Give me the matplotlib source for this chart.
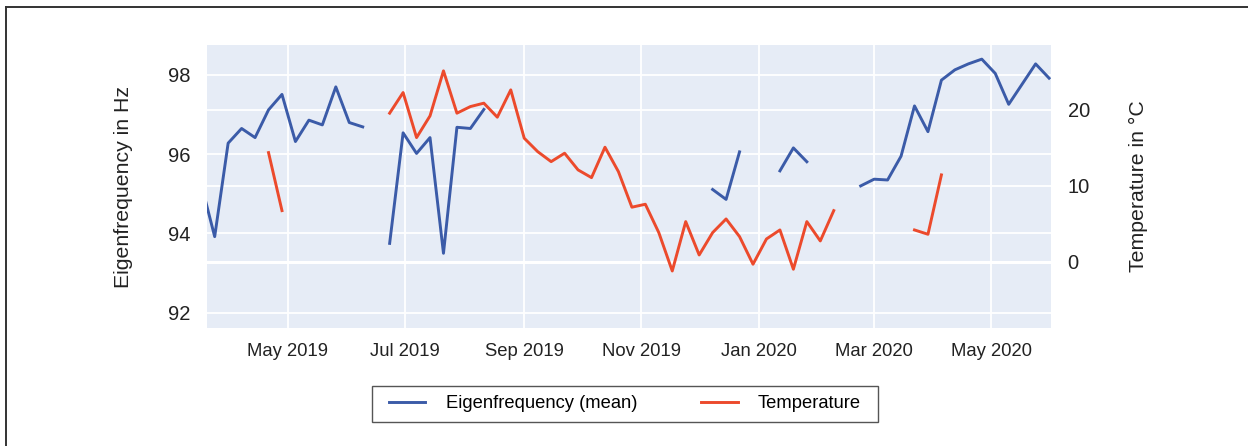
import numpy as np
import pandas as pd
import matplotlib
matplotlib.use("Agg")
import matplotlib.pyplot as plt
import matplotlib.dates as mdates
from matplotlib.lines import Line2D
from matplotlib.patches import Rectangle
from matplotlib.transforms import IdentityTransform

plt.rcParams["font.family"] = ["Liberation Sans", "DejaVu Sans"]

nan = np.nan

# weekly values, starting 2019-03-17
dates = pd.date_range("2019-03-17", periods=64, freq="7D")

eigenfrequency = [
    95.25, 93.92, 96.28, 96.65, 96.42, 97.12, 97.51, 96.32, 96.86, 96.74,
    97.70, 96.80, 96.69, nan, 93.75, 96.54, 96.02, 96.42, 93.50, 96.68,
    96.65, 97.13, nan, nan, nan, nan, nan, nan, nan, nan,
    nan, nan, nan, nan, nan, nan, nan, nan, 95.11, 94.86,
    96.06, nan, nan, 95.58, 96.16, 95.81, nan, nan, nan, 95.20,
    95.37, 95.35, 95.95, 97.22, 96.57, 97.87, 98.13, 98.28, 98.40, 98.04,
    97.26, 97.77, 98.28, 97.92,
]

temperature = [
    nan, nan, nan, nan, nan, 14.38, 6.73, nan, nan, nan,
    nan, nan, nan, nan, 19.58, 22.30, 16.36, 19.22, 25.16, 19.58,
    20.45, 20.90, 19.05, 22.65, 16.28, 14.51, 13.19, 14.30, 12.10, 11.08,
    15.09, 11.87, 7.18, 7.57, 3.83, -1.23, 5.28, 0.88, 3.83, 5.63,
    3.30, -0.34, 2.99, 4.18, -1.00, 5.28, 2.73, 6.73, nan, nan,
    nan, nan, nan, 4.18, 3.61, 11.44, nan, nan, nan, nan,
    nan, nan, nan, nan,
]

freq_ticks = [92, 94, 96, 98]
temp_ticks = [0, 10, 20]

blue = "#3b5ba8"
red = "#ec4a2c"
bg = "#e6ecf6"
text_col = "#222222"

fig = plt.figure(figsize=(12.48, 4.46), dpi=100)
ax1 = fig.add_axes([207 / 1248, 1 - 328 / 446, (1051 - 207) / 1248, (328 - 45) / 446])
ax1.set_facecolor(bg)
ax1.set_ylim(91.614, 98.757)
ax1.set_yticks(freq_ticks)
ax1.set_xlim(pd.Timestamp("2019-03-20"), pd.Timestamp("2020-06-01"))
ax1.xaxis.set_major_locator(mdates.MonthLocator(bymonth=[1, 3, 5, 7, 9, 11]))
ax1.xaxis.set_major_formatter(mdates.DateFormatter("%b %Y"))
ax1.grid(True, color="white", linewidth=1.3)
ax1.set_axisbelow(True)
ax1.set_ylabel("Eigenfrequency in Hz", fontsize=15.3, color=text_col, labelpad=25)

ax2 = ax1.twinx()
ax2.set_ylim(-8.75, 28.57)
ax2.set_yticks(temp_ticks)
ax2.grid(True, axis="y", color="white", linewidth=1.3)
ax2.axhline(0, color="white", linewidth=2.2, zorder=1)
ax2.set_ylabel("Temperature in °C", fontsize=15.3, color=text_col, labelpad=28)
ax2.plot(dates, temperature, color=red, linewidth=2.1, label="Temperature", zorder=3)

ax3 = ax1.twinx()
ax3.set_ylim(ax1.get_ylim())
ax3.set_axis_off()
ax3.plot(dates, eigenfrequency, color=blue, linewidth=2.1, label="Eigenfrequency (mean)")

for ax in (ax1, ax2, ax3):
    for s in ax.spines.values():
        s.set_visible(False)
    ax.tick_params(length=0, labelsize=14.5, colors=text_col, pad=12)
ax1.tick_params(axis="x", labelsize=13.3, pad=11)

handles = [ax3.get_lines()[0], ax2.get_lines()[-1]]
leg = fig.legend(handles, [h.get_label() for h in handles], loc="center",
                 bbox_to_anchor=(625 / 1248, 1 - 404 / 446), ncol=2,
                 fontsize=13.2, frameon=False, handlelength=2.0,
                 handletextpad=1.1, columnspacing=3.5, borderpad=0.5)

# legend frame, a bit wider than the default padding
fig.canvas.draw()
bb = leg.get_window_extent()
fig.add_artist(Rectangle((bb.x0 - 8, bb.y0), bb.width + 16, bb.height,
                         transform=IdentityTransform(), fill=False,
                         edgecolor="#555555", linewidth=1.0))

# partial frame around the figure
fig.add_artist(Line2D([6 / 1248, 6 / 1248], [0, 1 - 7 / 446], color="#333333", linewidth=1.4))
fig.add_artist(Line2D([6 / 1248, 1], [1 - 7 / 446, 1 - 7 / 446], color="#333333", linewidth=1.4))

fig.savefig("out.png", dpi=100)
